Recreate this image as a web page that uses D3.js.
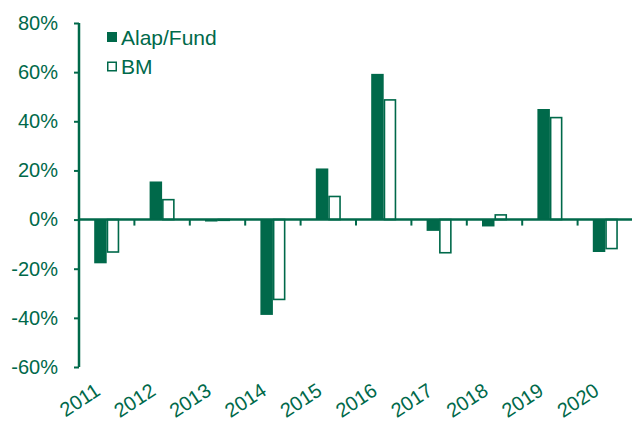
<!DOCTYPE html>
<html>
<head>
<meta charset="utf-8">
<script src="https://cdn.jsdelivr.net/npm/d3@7"></script>
<style>
  body { margin: 0; background: #fff; }
  text { font-family: "Liberation Sans", Arial, sans-serif; fill: #00694a; }
</style>
</head>
<body>
<svg id="chart" width="632" height="423"></svg>
<script>
const years = ['2011', '2012', '2013', '2014', '2015', '2016', '2017', '2018', '2019', '2020'];
const fund = [-17.8, 15.5, -0.8, -38.8, 20.8, 59.3, -4.6, -2.8, 45.0, -13.2];
const bm = [-13.2, 8.1, -0.3, -32.5, 9.4, 48.7, -13.5, 1.9, 41.5, -11.8];
const yTicks = [80, 60, 40, 20, 0, -20, -40, -60];

const green = '#00694a';
const svg = d3.select('#chart');

const xScale = d3.scaleBand().domain(years).range([79, 633]);
const yScale = d3.scaleLinear().domain([-60, 80]).range([367, 23]);
const barW = 12.5;

// bars
const g = svg.append('g');
g.selectAll('rect.fund')
  .data(years)
  .enter()
  .append('rect')
  .attr('class', 'fund')
  .attr('x', d => xScale(d) + xScale.bandwidth() / 2 - barW)
  .attr('width', barW)
  .attr('y', (d, i) => yScale(Math.max(0, fund[i])))
  .attr('height', (d, i) => Math.abs(yScale(fund[i]) - yScale(0)))
  .attr('fill', green);

g.selectAll('rect.bm')
  .data(years)
  .enter()
  .append('rect')
  .attr('class', 'bm')
  .attr('x', d => xScale(d) + xScale.bandwidth() / 2 + 0.75)
  .attr('width', barW - 1.5)
  .attr('y', (d, i) => yScale(Math.max(0, bm[i])))
  .attr('height', (d, i) => Math.abs(yScale(bm[i]) - yScale(0)))
  .attr('fill', '#fff')
  .attr('stroke', green)
  .attr('stroke-width', 1.6);

// y axis
let yAxis = d3.axisLeft(yScale).tickValues(yTicks).tickSize(5).tickPadding(16)
  .tickFormat(d => d + '%');
const yG = svg.append('g').attr('transform', 'translate(79,0)').call(yAxis);
yG.select('.domain').remove();
yG.selectAll('.tick line').attr('stroke', green).attr('stroke-width', 2);
yG.selectAll('.tick text').attr('font-size', 20).attr('fill', green);
svg.append('line')
  .attr('x1', 79).attr('x2', 79)
  .attr('y1', yScale(80)).attr('y2', yScale(-60))
  .attr('stroke', green).attr('stroke-width', 2.5);

// x axis on zero line
let xAxis = d3.axisBottom(xScale).tickSize(6).tickFormat('');
const xG = svg.append('g').attr('transform', `translate(0,${yScale(0)})`).call(xAxis);
xG.select('.domain').remove();
xG.selectAll('.tick')
  .attr('transform', d => `translate(${xScale(d) + xScale.bandwidth()},0)`);
xG.selectAll('.tick line').attr('stroke', green).attr('stroke-width', 2);
svg.append('line')
  .attr('x1', 79).attr('x2', 632)
  .attr('y1', yScale(0)).attr('y2', yScale(0))
  .attr('stroke', green).attr('stroke-width', 2.5);

// x labels
svg.append('g').selectAll('text')
  .data(years)
  .enter()
  .append('text')
  .attr('transform', d => `translate(${xScale(d) + xScale.bandwidth() / 2 - 5},394) rotate(-33)`)
  .attr('text-anchor', 'end')
  .attr('font-size', 20)
  .text(d => d);

// legend
const legend = [{name: 'Alap/Fund', filled: true}, {name: 'BM', filled: false}];
const lg = svg.append('g').selectAll('g')
  .data(legend)
  .enter()
  .append('g')
  .attr('transform', (d, i) => `translate(107,${32 + i * 29.5})`);
lg.append('rect')
  .attr('x', d => d.filled ? 0 : 0.75).attr('y', d => d.filled ? 0 : 0.75)
  .attr('width', d => d.filled ? 10 : 8.5).attr('height', d => d.filled ? 10 : 8.5)
  .attr('fill', d => d.filled ? green : '#fff')
  .attr('stroke', d => d.filled ? 'none' : green)
  .attr('stroke-width', 1.5);
lg.append('text')
  .attr('x', 14).attr('y', 12.5)
  .attr('font-size', 21)
  .text(d => d.name);
</script>
</body>
</html>
